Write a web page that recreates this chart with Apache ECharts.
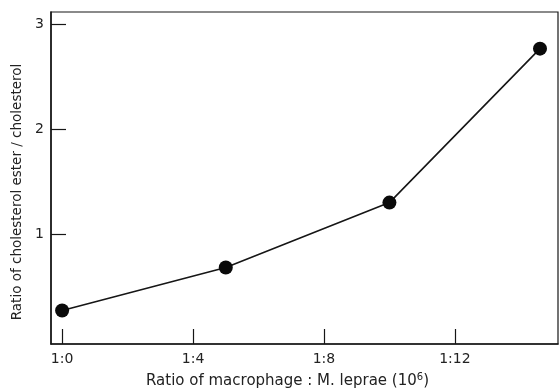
<!DOCTYPE html>
<html>
<head>
<meta charset="utf-8">
<script src="https://cdn.jsdelivr.net/npm/echarts@6/dist/echarts.min.js"></script>
<style>html,body{margin:0;padding:0;background:#fff;}#c{width:559px;height:390px;}</style>
</head>
<body>
<div id="c"></div>
<script>
var xValues = [0, 5, 10, 14.6];
var yValues = [0.27, 0.68, 1.30, 2.77];
var xTicks = [0, 4, 8, 12];
var yTicks = [1, 2, 3];

var chart = echarts.init(document.getElementById('c'), null, {renderer: 'canvas'});
var ink = '#161616';
var font = 'DejaVu Sans, sans-serif';
chart.setOption({
  animation: false,
  backgroundColor: '#fff',
  grid: {left: 51, top: 12, right: 1, bottom: 46, show: true, borderColor: ink, borderWidth: 1.2,
    containLabel: false, outerBoundsMode: 'none'},
  xAxis: {
    type: 'value', min: -0.34, max: 15.15,
    axisLine: {show: true, onZero: false, lineStyle: {color: ink, width: 1.5}},
    axisTick: {show: true, inside: true, length: 15, customValues: xTicks, lineStyle: {color: ink, width: 1.2}},
    axisLabel: {customValues: xTicks, margin: 8, color: '#222', fontSize: 14, fontFamily: font,
      formatter: function (v) { return '1:' + v; }},
    splitLine: {show: false},
    name: 'Ratio of macrophage : M. leprae (10{sup|6})',
    nameLocation: 'middle', nameGap: 28,
    nameTextStyle: {color: '#222', fontSize: 15, fontFamily: font, padding: [0, 34, 0, 0],
      rich: {sup: {fontSize: 10, color: '#222', fontFamily: font, verticalAlign: 'top', padding: [0, 0, 8, 0]}}}
  },
  yAxis: {
    type: 'value', min: -0.05, max: 3.12,
    axisLine: {show: true, onZero: false, lineStyle: {color: ink, width: 1.5}},
    axisTick: {show: true, inside: true, length: 15, customValues: yTicks, lineStyle: {color: ink, width: 1.2}},
    axisLabel: {customValues: yTicks, margin: 7, color: '#222', fontSize: 14, fontFamily: font},
    splitLine: {show: false},
    name: 'Ratio of cholesterol ester / cholesterol',
    nameLocation: 'middle', nameGap: 27, nameRotate: 90,
    nameTextStyle: {color: '#222', fontSize: 13.5, fontFamily: font, padding: [0, 28, 0, 0]}
  },
  series: [{
    type: 'line',
    data: xValues.map(function (x, i) { return [x, yValues[i]]; }),
    symbol: 'circle', symbolSize: 14,
    itemStyle: {color: '#0a0a0a'},
    lineStyle: {color: ink, width: 1.6}
  }]
});
</script>
</body>
</html>
